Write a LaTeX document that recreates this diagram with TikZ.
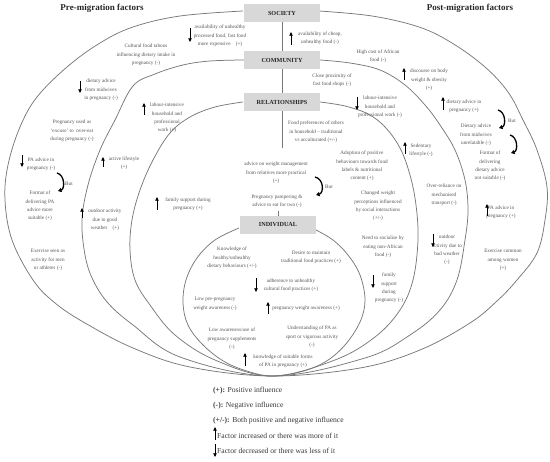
\documentclass[tikz,border=0pt]{standalone}
\usepackage{fontspec}
\setmainfont{Liberation Serif}
\usetikzlibrary{arrows.meta}
\definecolor{linec}{RGB}{120,120,120}
\definecolor{txtc}{RGB}{85,85,85}
\definecolor{boxc}{RGB}{216,216,216}
\definecolor{hdrc}{RGB}{38,38,38}
\definecolor{legc}{RGB}{55,55,55}
\begin{document}
\begin{tikzpicture}[x=1pt,y=-1pt,
  lbl/.style={font=\fontsize{5.2}{8.3}\selectfont, text=txtc, align=center, inner sep=0pt},
  levelbox/.style={fill=boxc, minimum width=76pt, minimum height=18pt, inner sep=0pt,
     font=\fontsize{6.2}{7}\selectfont\bfseries, text=hdrc},
  ring/.style={draw=linec, line width=0.75pt},
  link/.style={draw=linec, line width=0.9pt},
  uparr/.style={-{Triangle[length=3.6pt,width=3.4pt]}, line width=0.55pt, black},
  butarr/.style={-{Triangle[length=3.6pt,width=4.2pt]}, line width=1.3pt, black},
  heading/.style={font=\fontsize{9}{10}\selectfont\bfseries, text=hdrc},
  legend/.style={font=\fontsize{7.6}{9}\selectfont, text=legc, anchor=west, inner sep=0pt}]
\useasboundingbox (0,0) rectangle (550,462);

% rings
\draw[ring] plot[smooth, tension=0.6] coordinates {(243,11) (180,16) (133,27) (100,43) (67,67) (37,97) (20,127) (8,165) (5,200) (12,240) (33,280) (55,303) (85,323) (133,348) (190,367) (272,376) (360,368) (420,350) (470,323) (497,301) (517,280) (537,253) (545,220) (547,187) (537,150) (523,120) (508,92) (485,67) (452,43) (419,27) (372,16) (319,11)};
\draw[ring] plot[smooth, tension=0.6] coordinates {(244,60) (210,61) (183,65) (155,74) (133,86) (115,120) (100,150) (88,185) (82,220) (85,255) (93,280) (108,303) (133,325) (180,357) (272,376) (365,358) (410,335) (440,310) (457,280) (465,240) (468,210) (465,180) (455,150) (440,125) (425,105) (405,85) (380,70) (350,63) (320,60)};
\draw[ring] plot[smooth, tension=0.6] coordinates {(243,102) (215,107) (190,117) (170,133) (153,160) (140,190) (132,220) (130,250) (135,280) (150,305) (175,335) (215,360) (272,376) (335,360) (375,337) (400,310) (413,280) (418,240) (416,205) (410,175) (400,148) (385,127) (368,114) (345,106) (320,102)};
\draw[ring] plot[smooth, tension=0.6] coordinates {(239,228) (215,240) (197,258) (186,280) (183,303) (188,325) (203,345) (225,362) (250,372) (272,376) (300,372) (325,362) (345,345) (360,322) (365,300) (360,275) (348,255) (333,240) (316,230)};

% level boxes
\node[levelbox] (soc) at (282,13) {SOCIETY};
\node[levelbox] (com) at (282,60) {COMMUNITY};
\node[levelbox] (rel) at (282,102) {RELATIONSHIPS};
\node[levelbox] (ind) at (278,225) {INDIVIDUAL};
\coordinate (relend) at (282,148);
\coordinate (indtop) at (278,211);
\draw[link] (soc) -- (com);
\draw[link] (com) -- (rel);
\draw[link] (rel.south) -- (relend);
\draw[link] (indtop) -- (ind.north);

% headings
\node[heading] (pre) at (102,8) {Pre-migration factors};
\node[heading] (post) at (470,8) {Post-migration factors};

% society ring, pre-migration
\node[lbl] (s1) at (220,36) {availability of unhealthy\\processed food, fast food\\more expensive\quad(+)};
\draw[uparr] (190,28) -- (190,42);
\node[lbl] (s2) at (146,55) {Cultural food taboos\\influencing dietary intake in\\pregnancy (-)};
\node[lbl] (s3) at (101,90) {dietary advice\\from midwives\\in pregnancy (-)};
\draw[uparr] (80,81) -- (80,93);
\node[lbl] (s4) at (72,131) {Pregnancy used as\\`excuse' to\ \ over-eat\\during pregnancy (-)};
\node[lbl] (s5) at (41,164) {PA advice in\\pregnancy (-)};
\draw[uparr] (22,155) -- (22,167);
\node[lbl] (s6) at (40,206) {Format of\\delivering PA\\advice more\\suitable (+)};
\draw[butarr] (57,173) .. controls (65,175) and (65,189) .. (58,191);
\node[lbl] (but1) at (69,184) {But};
\node[lbl] (s7) at (48,260) {Exercise seen as\\activity for men\\or athletes (-)};

% society ring, post-migration
\node[lbl] (s8) at (320,38) {availability of cheap,\\unhealthy food (-)};
\draw[uparr] (291,45) -- (291,32);
\node[lbl] (s9) at (378,56) {High cost of African\\food (-)};
\node[lbl] (s10) at (429,80) {discourse on body\\weight \& obesity\\(+)};
\draw[uparr] (404,80) -- (404,68);
\node[lbl] (s11) at (464,106) {dietary advice in\\pregnancy (+)};
\draw[uparr] (443,110) -- (443,97);
\draw[butarr] (498,110) .. controls (506,112) and (506,126) .. (499,128);
\node[lbl] (but2) at (512,121) {But};
\node[lbl] (s12) at (476,135) {Dietary advice\\from midwives\\unrelatable (-)};
\draw[butarr] (510,135) .. controls (518,137) and (518,151) .. (511,153);
\node[lbl] (s13) at (490,166) {Format of\\delivering\\dietary advice\\not suitable (-)};
\node[lbl] (s14) at (501,212) {PA advice in\\pregnancy (+)};
\draw[uparr] (487,216) -- (487,204);
\node[lbl] (s15) at (503,260) {Exercise common\\among women\\(+)};

% community ring
\node[lbl] (c1) at (167,118) {labour-intensive\\household and\\professional\\work (+)};
\draw[uparr] (144,115) -- (144,103);
\node[lbl] (c2) at (124,163) {active lifestyle\\(+)};
\draw[uparr] (103,167) -- (103,157);
\node[lbl] (c3) at (105,220) {outdoor activity\\due to good\\weather\quad(+)};
\draw[uparr] (82,218) -- (82,208);
\node[lbl] (c4) at (332,80) {Close proximity of\\fast food shops (-)};
\node[lbl] (c5) at (380,107) {labour-intensive\\household and\\professional work (-)};
\draw[uparr] (357,97) -- (357,110);
\node[lbl] (c6) at (421,150) {Sedentary\\lifestyle (-)};
\draw[uparr] (405,154) -- (405,142);
\node[lbl] (c7) at (444,195) {Over-reliance on\\mechanised\\transport (-)};
\node[lbl] (c8) at (447,250) {outdoor\\activity due to\\bad weather\\(-)};
\draw[uparr] (433,234) -- (433,247);

% relationships ring
\node[lbl] (r1) at (316,132) {Food preferences of others\\in household -- traditional\\vs acculturated (+/-)};
\node[lbl] (r2) at (276,173) {advice on weight management\\from relatives more practical\\(+)};
\draw[butarr] (315,177) .. controls (324,179) and (324,193) .. (316,195);
\node[lbl] (but3) at (329,187) {But};
\node[lbl] (r3) at (277,201) {Pregnancy pampering \&\\advice to eat for two (-)};
\node[lbl] (r4) at (188,204) {family support during\\pregnancy (+)};
\draw[uparr] (157,210) -- (157,197);
\node[lbl] (r5) at (362,166) {Adoption of positive\\behaviours towards food\\labels \& nutritional\\content (+)};
\node[lbl] (r6) at (378,206) {Changed weight\\perceptions influenced\\by social interactions\\(+/-)};
\node[lbl] (r7) at (383,247) {Need to socialise by\\eating non-African\\food (-)};
\node[lbl] (r8) at (389,288) {family\\support\\during\\pregnancy (-)};
\draw[uparr] (373,275) -- (373,288);

% individual
\node[lbl] (i1) at (232,258) {Knowledge of\\healthy/unhealthy\\dietary behaviours (+/-)};
\node[lbl] (i2) at (311,257) {Desire to maintain\\traditional food practices (+)};
\node[lbl] (i3) at (291,285) {adherence to unhealthy\\cultural food practices (+)};
\draw[uparr] (256,278) -- (256,292);
\node[lbl] (i4) at (215,304) {Low pre-pregnancy\\weight awareness (-)};
\node[lbl] (i5) at (306,308) {pregnancy weight awareness (+)};
\draw[uparr] (268,314) -- (268,302);
\node[lbl] (i6) at (232,339) {Low awareness/use of\\pregnancy supplements\\(-)};
\node[lbl] (i7) at (312,337) {Understanding of PA as\\sport or vigorous activity\\(-)};
\node[lbl] (i8) at (283,361) {knowledge of suitable forms\\of PA in pregnancy (+)};
\draw[uparr] (245,366) -- (245,353);

% legend
\node[legend] (l1) at (213,391) {\textbf{(+):} Positive influence};
\node[legend] (l2) at (213,406) {\textbf{(-):} Negative influence};
\node[legend] (l3) at (213,421) {\textbf{(+/-):} Both positive and negative influence};
\node[legend] (l4) at (217,436) {Factor increased or there was more of it};
\draw[uparr] (215,440) -- (215,427);
\node[legend] (l5) at (217,451) {Factor decreased or there was less of it};
\draw[uparr] (215,444) -- (215,457);
\end{tikzpicture}
\end{document}
